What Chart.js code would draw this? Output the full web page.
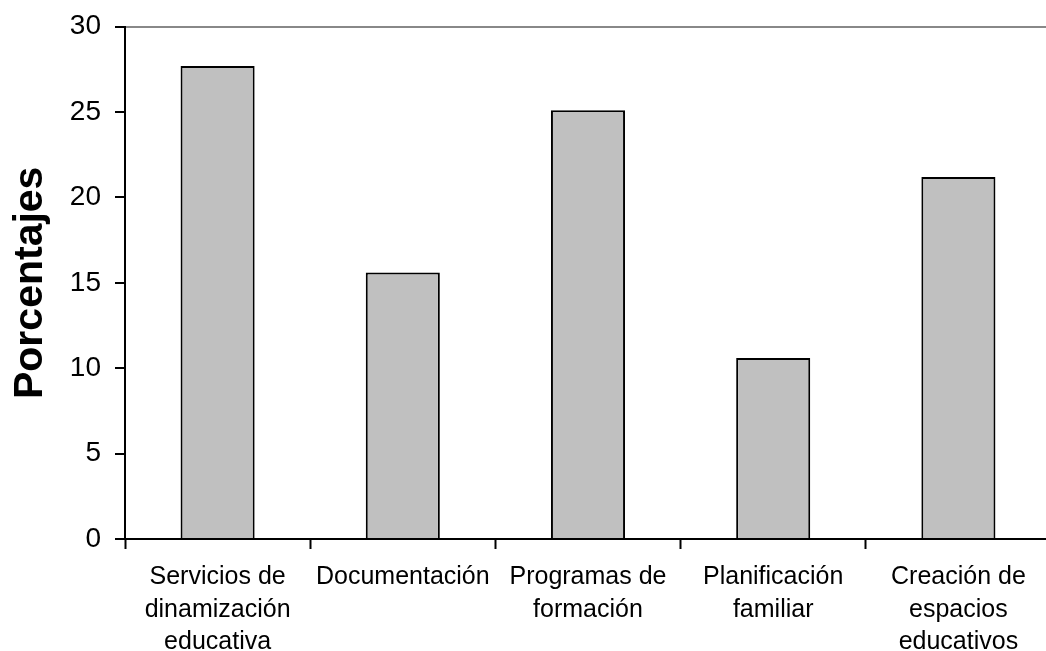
<!DOCTYPE html>
<html>
<head>
<meta charset="utf-8">
<script src="https://cdn.jsdelivr.net/npm/chart.js@4"></script>
<style>
  html, body { margin: 0; padding: 0; background: #fff; overflow: hidden; }
  #wrap { width: 1052px; height: 651px; }
</style>
</head>
<body>
<div id="wrap"><canvas id="barChart"></canvas></div>
<script>
// categorias del eje x (cada una en varias lineas)
const categorias = [
    ["Servicios de", "dinamización", "educativa"],
    "Documentación",
    ["Programas de", "formación"],
    ["Planificación", "familiar"],
    ["Creación de", "espacios", "educativos"]
];
const porcentajes = [27.7, 15.6, 25.1, 10.6, 21.2];
const yMin = 0;
const yMax = 30;
const yPaso = 5;

const fuente = "'Liberation Sans', Arial, sans-serif";

const ctx = document.getElementById("barChart");

new Chart(ctx, {
    type: 'bar',
    data: {
        labels: categorias,
        datasets: [{
            label: "Porcentajes",
            data: porcentajes,
            backgroundColor: '#c0c0c0',
            borderColor: '#000000',
            borderWidth: 2,
            borderSkipped: 'bottom',
            categoryPercentage: 1.0,
            barPercentage: 0.4
        }]
    },
    options: {
        responsive: true,
        maintainAspectRatio: false,
        animation: false,
        layout: {
            padding: { top: 4, right: 1, bottom: 0, left: 0 }
        },
        plugins: {
            legend: { display: false },
            tooltip: { enabled: false }
        },
        scales: {
            x: {
                afterFit: (scale) => { scale.height = 112; },
                grid: {
                    offset: true,
                    drawOnChartArea: false,
                    tickLength: 10,
                    tickColor: '#000',
                    tickWidth: 2
                },
                border: { color: '#000', width: 2 },
                ticks: {
                    color: '#000',
                    maxRotation: 0,
                    autoSkip: false,
                    padding: 12,
                    font: { family: fuente, size: 25, lineHeight: 1.3 }
                }
            },
            y: {
                min: yMin,
                max: yMax,
                afterFit: (scale) => { scale.width = 125; },
                grid: {
                    color: (c) => (c.tick && c.tick.value === yMax) ? '#888888' : 'rgba(0,0,0,0)',
                    lineWidth: 2,
                    tickLength: 10,
                    tickColor: '#000',
                    tickWidth: 2
                },
                border: { color: '#000', width: 2 },
                ticks: {
                    stepSize: yPaso,
                    color: '#000',
                    padding: 14,
                    font: { family: fuente, size: 28, lineHeight: 0.9 }
                },
                title: {
                    display: true,
                    text: "Porcentajes",
                    color: '#000',
                    padding: { top: 6, bottom: 0 },
                    font: { family: fuente, size: 41, weight: 'bold' }
                }
            }
        }
    }
});
</script>
</body>
</html>
